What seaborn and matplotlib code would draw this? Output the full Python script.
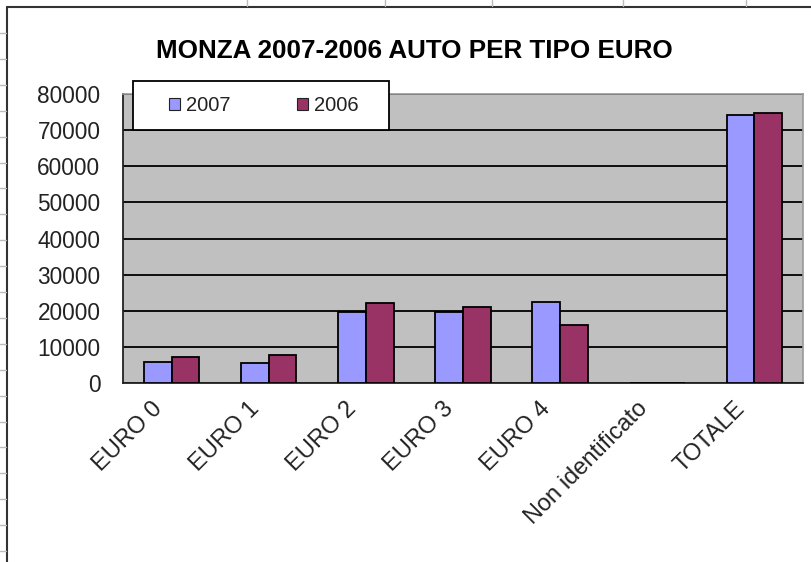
import numpy as np
import pandas as pd
import matplotlib
matplotlib.use("Agg")
import matplotlib.pyplot as plt
import matplotlib.transforms as mtransforms
import seaborn as sns
from matplotlib.lines import Line2D
from matplotlib.patches import Rectangle
from matplotlib.ticker import FixedLocator

categories = ["EURO 0", "EURO 1", "EURO 2", "EURO 3", "EURO 4", "Non identificato", "TOTALE"]
values_2007 = [6000, 5550, 19700, 19600, 22550, 0, 74250]
values_2006 = [7400, 7850, 22100, 21100, 16100, 0, 74800]
years = ["2007", "2006"]
yticks = [0, 10000, 20000, 30000, 40000, 50000, 60000, 70000, 80000]

df = pd.DataFrame({
    "categoria": categories * 2,
    "anno": [years[0]] * len(categories) + [years[1]] * len(categories),
    "auto": values_2007 + values_2006,
})

sns.set_style("white")
plt.rcParams["font.family"] = ["Liberation Sans", "DejaVu Sans"]

W, H = 812, 562
fig = plt.figure(figsize=(W / 100, H / 100), dpi=100)
fig.patch.set_facecolor("white")

# axes placed to match the Excel plot area (pixel coords)
x0, x1, ytop, ybot = 123, 803, 94, 383.3
ax = fig.add_axes([x0 / W, 1 - ybot / H, (x1 - x0) / W, (ybot - ytop) / H])
ax.set_facecolor("#C0C0C0")

palette = {"2007": "#9999FF", "2006": "#993366"}
sns.barplot(data=df, x="categoria", y="auto", hue="anno", palette=palette,
            width=0.57, saturation=1, edgecolor="black", linewidth=1.3,
            ax=ax, legend=False, zorder=3)

ax.set_xlim(-0.5, len(categories) - 0.5)
ax.set_ylim(0, 80000)
ax.set_yticks(yticks)
ax.set_yticklabels([str(v) for v in yticks], fontsize=16.3, color="#222222")
ax.yaxis.grid(True, color="black", linewidth=1.3, zorder=1)
ax.set_axisbelow(True)
ax.tick_params(axis="y", direction="out", length=7.2, width=1.2, color="#222222", pad=9)

# category labels, tick marks between categories
ax.set_xticks(range(len(categories)))
ax.set_xticklabels(categories, rotation=45, ha="right", va="center",
                   rotation_mode="anchor", fontsize=17, color="#222222")
ax.tick_params(axis="x", which="major", length=0, pad=16)
ax.xaxis.set_minor_locator(FixedLocator(np.arange(-0.5, len(categories), 1.0)))
ax.tick_params(axis="x", which="minor", direction="out", length=6, width=1.2, color="#222222")
shift = mtransforms.ScaledTranslation(-13 / 100, 0, fig.dpi_scale_trans)
for lbl in ax.get_xticklabels():
    lbl.set_transform(lbl.get_transform() + shift)

ax.set_xlabel("")
ax.set_ylabel("")
for side in ["top", "right"]:
    ax.spines[side].set_color("#999999")
    ax.spines[side].set_linewidth(1.2)
ax.spines["left"].set_color("#222222")
ax.spines["left"].set_linewidth(1.3)
ax.spines["bottom"].set_color("#222222")
ax.spines["bottom"].set_linewidth(1.3)

# legend box, drawn as its own white rectangle like Excel
lx0, lx1, ly0, ly1 = 133, 389, 81, 130
fig.add_artist(Rectangle((lx0 / W, 1 - ly1 / H), (lx1 - lx0) / W, (ly1 - ly0) / H,
                         transform=fig.transFigure, facecolor="white",
                         edgecolor="black", linewidth=1.3, zorder=5))
handles = [Rectangle((0, 0), 1, 1, facecolor=palette[y], edgecolor="#222222", linewidth=0.8)
           for y in years]
leg = fig.legend(handles, years, loc="center",
                 bbox_to_anchor=((lx0 + lx1) / 2 / W + 3 / W, 1 - (ly0 + ly1) / 2 / H),
                 ncol=2, frameon=False, fontsize=14.5, handlelength=0.55,
                 handleheight=0.55, handletextpad=0.3, columnspacing=3.3,
                 borderpad=0, borderaxespad=0)
leg.set_zorder(6)
for t in leg.get_texts():
    t.set_color("#222222")

fig.text(414 / W, 1 - 58 / H, "MONZA 2007-2006 AUTO PER TIPO EURO",
         ha="center", va="baseline", fontsize=18.7, fontweight="bold", color="black")

# spreadsheet background: chart frame and cell lines
fig.add_artist(Line2D([7 / W, 7 / W], [0, 1 - 7 / H], color="#333333", linewidth=1.5))
fig.add_artist(Line2D([7 / W, 1], [1 - 7 / H, 1 - 7 / H], color="#333333", linewidth=1.5))
for xv in [247, 385, 492, 623, 746]:
    fig.add_artist(Line2D([xv / W, xv / W], [1 - 6 / H, 1], color="#bbbbbb", linewidth=1))
for yv in np.arange(33, 562, 25.9):
    fig.add_artist(Line2D([0, 6 / W], [1 - yv / H, 1 - yv / H], color="#bbbbbb", linewidth=1))

fig.savefig("out.png", dpi=100)
